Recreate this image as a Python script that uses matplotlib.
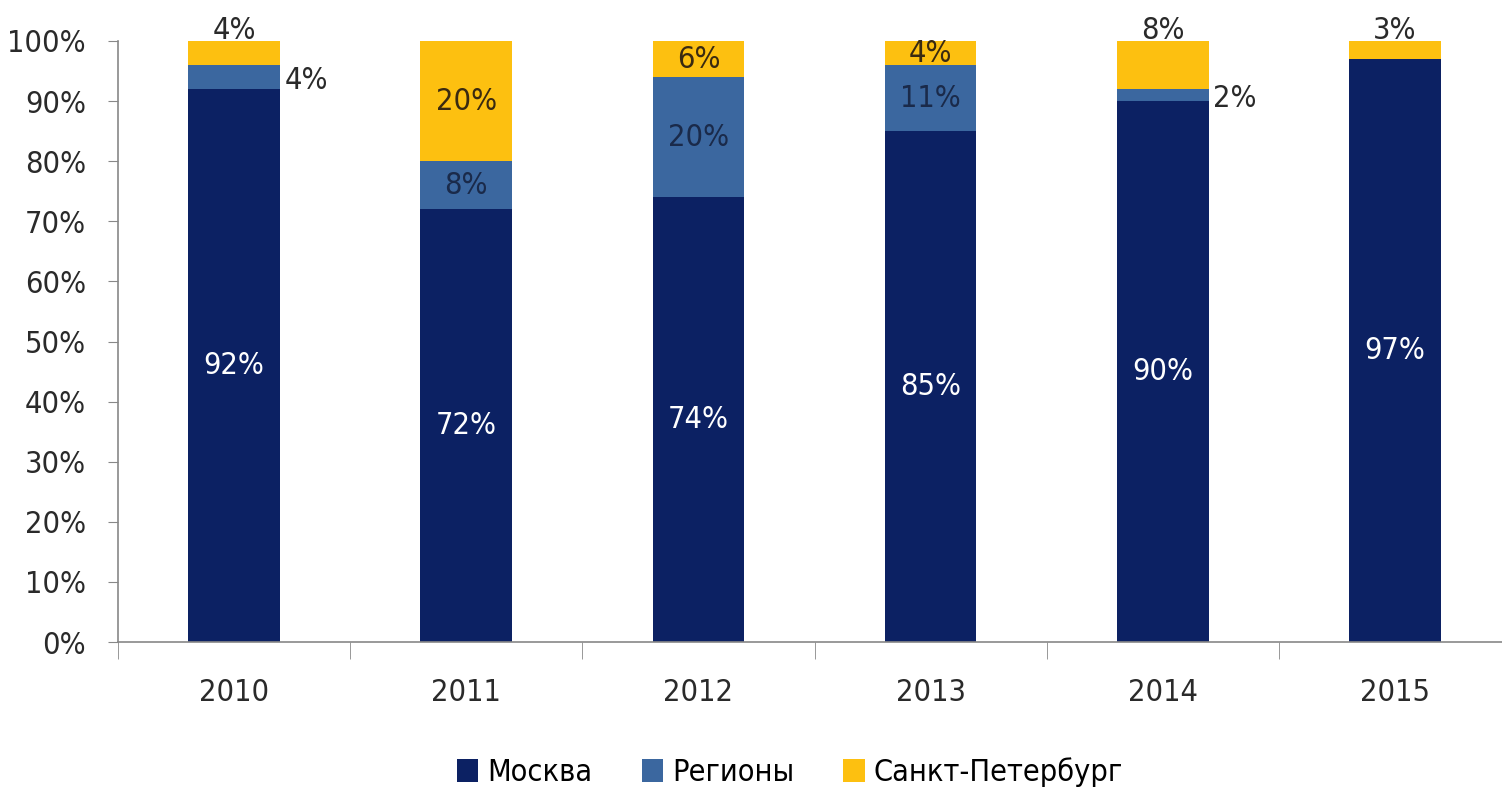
import matplotlib
matplotlib.use("Agg")
import matplotlib.pyplot as plt
import numpy as np

plt.rcParams['font.family'] = ['DejaVu Sans']
plt.rcParams['font.stretch'] = 'condensed'

# Data
years = ['2010', '2011', '2012', '2013', '2014', '2015']
moscow = [92, 72, 74, 85, 90, 97]
regions = [4, 8, 20, 11, 2, 0]
spb = [4, 20, 6, 4, 8, 3]
series_names = ['Москва', 'Регионы', 'Санкт-Петербург']

# where the small labels sit
spb_pos = ['top', 'center', 'center', 'center', 'top', 'top']
reg_pos = ['right', 'center', 'center', 'center', 'right', None]

c_msk = '#0c2163'
c_reg = '#3b679f'
c_spb = '#fdc010'
txt_dark = '#2a2a2a'

fig = plt.figure(figsize=(15.02, 8.02), dpi=100)
ax = fig.add_axes([118 / 1502, 160 / 802, 1393 / 1502, 601 / 802])

x = np.arange(len(years))
w = 0.395
bot2 = np.array(moscow) + np.array(regions)
ax.bar(x, moscow, w, color=c_msk, label=series_names[0])
ax.bar(x, regions, w, bottom=moscow, color=c_reg, label=series_names[1])
ax.bar(x, spb, w, bottom=bot2, color=c_spb, label=series_names[2])

fs = 22
for i in range(len(years)):
    ax.text(x[i], moscow[i] / 2, f'{moscow[i]}%', color='white', ha='center', va='center', fontsize=fs)
    if reg_pos[i] == 'center':
        ax.text(x[i], moscow[i] + regions[i] / 2, f'{regions[i]}%', color='#1a2a4a',
                ha='center', va='center', fontsize=fs)
    elif reg_pos[i] == 'right':
        ax.text(x[i] + w / 2 + 0.02, moscow[i] + regions[i] / 2 - 0.5, f'{regions[i]}%', color=txt_dark,
                ha='left', va='center', fontsize=fs)
    if spb_pos[i] == 'center':
        ax.text(x[i], bot2[i] + spb[i] / 2, f'{spb[i]}%', color='#3a2a10',
                ha='center', va='center', fontsize=fs)
    else:
        ax.text(x[i], 101.8, f'{spb[i]}%', color=txt_dark, ha='center', va='center', fontsize=fs)

ax.set_xlim(-0.5, len(years) - 0.5)
ax.set_ylim(0, 100)
ax.set_yticks(np.arange(0, 101, 10))
ax.set_yticklabels([f'{v}%' for v in range(0, 101, 10)], fontsize=fs, color=txt_dark)
ax.set_xticks(x)
ax.set_xticklabels(years, fontsize=fs, color=txt_dark)
ax.set_xticks(np.arange(-0.5, len(years), 1), minor=True)
ax.tick_params(axis='x', which='major', length=0, pad=26)
ax.tick_params(axis='x', which='minor', length=12, color='#888888', direction='out')
ax.tick_params(axis='y', length=7, color='#888888', direction='out', pad=16)

for s in ['top', 'right']:
    ax.spines[s].set_visible(False)
for s in ['left', 'bottom']:
    ax.spines[s].set_color('#888888')
    ax.spines[s].set_linewidth(1.2)

fig.legend(loc='center', bbox_to_anchor=(790 / 1502, 1 - 772 / 802), ncol=3, frameon=False,
           fontsize=fs, handlelength=0.7, handleheight=0.8, handletextpad=0.3, columnspacing=1.6)

fig.savefig('out.png', dpi=100)
